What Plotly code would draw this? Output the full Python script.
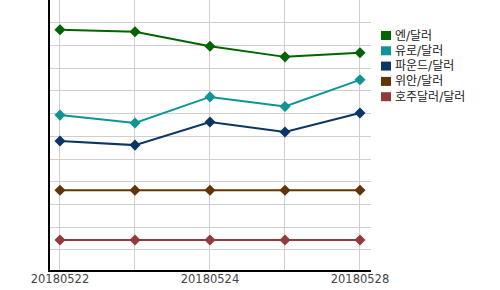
import plotly.graph_objects as go

dates = ["20180522", "20180523", "20180524", "20180525", "20180528"]
names = ["엔/달러", "유로/달러", "파운드/달러", "위안/달러", "호주달러/달러"]
colors = ["#006400", "#0E9494", "#0B3565", "#633408", "#923B3B"]
jpy = [10.68, 10.59, 9.96, 9.49, 9.67]
eur = [6.93, 6.58, 7.73, 7.31, 8.48]
gbp = [5.79, 5.61, 6.63, 6.19, 7.02]
cny = [3.63, 3.63, 3.63, 3.63, 3.63]
aud = [1.44, 1.44, 1.44, 1.44, 1.44]
series = [jpy, eur, gbp, cny, aud]

fig = go.Figure()
for name, vals, col in zip(names, series, colors):
    fig.add_trace(go.Scatter(
        x=dates, y=vals, name=name, mode="lines+markers",
        line=dict(color=col, width=2),
        marker=dict(symbol="diamond", size=8.5, color=col),
        showlegend=False,
    ))

L, R, T, B = 50, 129, 0, 20
W, H = 500, 290
pw, ph = W - L - R, H - T - B

shapes = []
annotations = []
for i, (name, col) in enumerate(zip(names, colors)):
    cy = 35.5 + 15.3 * i
    shapes.append(dict(
        type="rect", xref="paper", yref="paper",
        x0=(381 - L) / pw, x1=(391 - L) / pw,
        y0=1 - (cy + 4.5) / ph, y1=1 - (cy - 4.5) / ph,
        fillcolor=col, line=dict(width=0),
    ))
    annotations.append(dict(
        xref="paper", yref="paper", x=(394 - L) / pw, y=1 - cy / ph,
        xanchor="left", yanchor="middle", showarrow=False, text=name,
        borderpad=0,
        font=dict(family="DejaVu Sans, Noto Sans CJK KR", size=12, color="#222"),
    ))

fig.update_layout(
    width=W, height=H,
    margin=dict(l=L, r=R, t=T, b=B, pad=0),
    paper_bgcolor="white", plot_bgcolor="white",
    showlegend=False,
    shapes=shapes, annotations=annotations,
    xaxis=dict(
        type="category", categoryorder="array", categoryarray=dates,
        range=[-0.133, 4.147], ticklabelstep=2,
        showgrid=True, gridcolor="#cfcfcf", gridwidth=1,
        showline=True, linecolor="black", linewidth=1.5,
        ticks="", zeroline=False, ticklabelstandoff=-3,
        tickfont=dict(family="DejaVu Sans", size=11.5, color="#444"),
    ),
    yaxis=dict(
        range=[0.12, 11.99], dtick=1, tick0=0,
        showgrid=True, gridcolor="#cfcfcf", gridwidth=1,
        showline=True, linecolor="black", linewidth=1.5,
        showticklabels=False, ticks="", zeroline=False,
    ),
)

fig.write_html("out.html")
